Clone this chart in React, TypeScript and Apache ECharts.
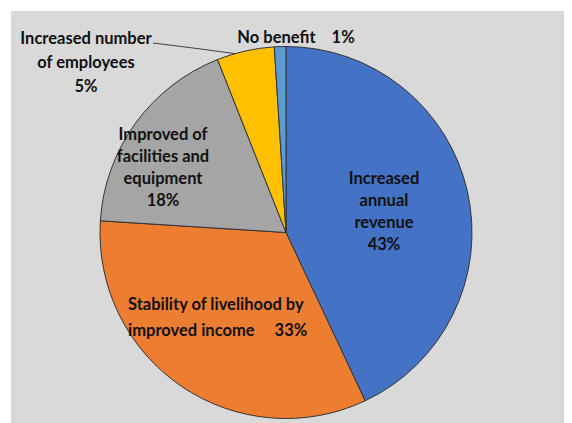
import React, { useEffect, useRef } from 'react';
import * as echarts from 'echarts';

const categories = [
  'Increased annual revenue',
  'Stability of livelihood by improved income',
  'Improved of facilities and equipment',
  'Increased number of employees',
  'No benefit',
];
const values = [43, 33, 18, 5, 1];
const labelTexts = [
  'Increased\nannual\nrevenue\n43%',
  'Stability of livelihood by\nimproved income     33%',
  'Improved of\nfacilities and\nequipment\n18%',
  'Increased number\nof employees\n5%',
  'No benefit    1%',
];

const colors = ['#4472C4', '#ED7D31', '#A5A5A5', '#FFC000', '#5B9BD5'];
const labelPos: { x: number; y: number; align: string; lh: number }[] = [
  { x: 373, y: 200, align: 'center', lh: 22 },
  { x: 117, y: 306, align: 'left', lh: 26 },
  { x: 152, y: 156, align: 'center', lh: 22 },
  { x: 75, y: 51, align: 'center', lh: 24 },
  { x: 285, y: 26, align: 'center', lh: 20 },
];

export default function App() {
  const ref = useRef<HTMLDivElement>(null);
  useEffect(() => {
    if (!ref.current) return;
    const chart = echarts.init(ref.current, undefined, { renderer: 'svg' });
    chart.setOption({
      animation: false,
      backgroundColor: '#D9D9D9',
      series: [
        {
          type: 'pie',
          center: [275, 221.5],
          radius: [0, 186],
          startAngle: 90,
          clockwise: true,
          avoidLabelOverlap: false,
          minShowLabelAngle: 0,
          itemStyle: { borderColor: '#333333', borderWidth: 1 },
          label: {
            show: true,
            position: 'outside',
            fontFamily: 'Lato',
            fontWeight: 'bold',
            fontSize: 16.5,
            color: '#111111',
          },
          labelLine: { show: false },
          labelLayout: (params: any) => {
            const p = labelPos[params.dataIndex];
            const res: any = { x: p.x, y: p.y, align: p.align, verticalAlign: 'middle' };
            if (params.dataIndex === 3) {
              res.labelLinePoints = [
                [142, 32],
                [190, 38],
                [234, 44],
              ];
            }
            return res;
          },
          data: categories.map((name, i) => ({
            name,
            value: values[i],
            itemStyle: { color: colors[i] },
            label: { formatter: labelTexts[i], lineHeight: labelPos[i].lh, align: labelPos[i].align },
            labelLine:
              i === 3
                ? { show: true, lineStyle: { color: '#404040', width: 1 } }
                : { show: false },
          })),
        },
      ],
    });
    return () => chart.dispose();
  }, []);
  return (
    <div style={{ width: 564, height: 415, background: '#fff' }}>
      <div ref={ref} style={{ marginLeft: 3, paddingTop: 3, width: 561, height: 412 }}>
      </div>
    </div>
  );
}
